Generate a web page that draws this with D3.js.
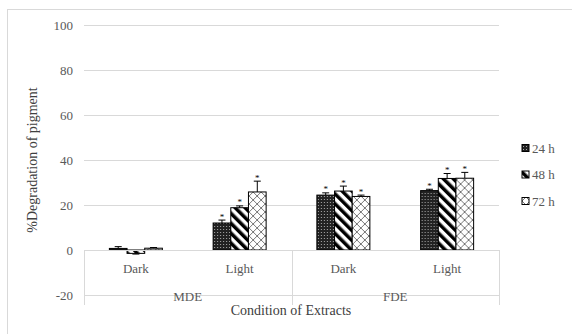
<!DOCTYPE html>
<html>
<head>
<meta charset="utf-8">
<script src="https://cdn.jsdelivr.net/npm/d3@7"></script>
<style>
  body { margin: 0; background: #fff; }
  text { font-family: "Liberation Serif", "Times New Roman", serif; }
</style>
</head>
<body>
<div id="chart"></div>
<script>
// data
const extracts = ["MDE", "FDE"];
const conditions = ["Dark", "Light"];
const series = ["24 h", "48 h", "72 h"];
const values = [
  [0.7, -1.5, 0.8],   // MDE Dark
  [12, 18.8, 25.8],   // MDE Light
  [24.4, 26.2, 23.8], // FDE Dark
  [26.4, 31.8, 31.9]  // FDE Light
];
const errors = [
  [0.8, 0.3, 0.3],
  [1.3, 0.8, 4.8],
  [1.0, 2.2, 0.6],
  [0.6, 2.2, 2.6]
];
const starred = [
  [false, false, false],
  [true, true, true],
  [true, true, true],
  [true, true, true]
];
const yTicks = [-20, 0, 20, 40, 60, 80, 100];

const width = 572, height = 334;
const svg = d3.select("#chart").append("svg")
  .attr("width", width)
  .attr("height", height);

// patterns
const defs = svg.append("defs");
const p1 = defs.append("pattern").attr("id", "p24")
  .attr("patternUnits", "userSpaceOnUse").attr("width", 3).attr("height", 3);
p1.append("rect").attr("width", 3).attr("height", 3).attr("fill", "#222");
p1.append("rect").attr("x", 1).attr("y", 1).attr("width", 1).attr("height", 1).attr("fill", "#aaa");

const p2 = defs.append("pattern").attr("id", "p48")
  .attr("patternUnits", "userSpaceOnUse").attr("width", 7).attr("height", 7)
  .attr("patternTransform", "rotate(-45)");
p2.append("rect").attr("width", 7).attr("height", 7).attr("fill", "#fff");
p2.append("rect").attr("width", 3.5).attr("height", 7).attr("fill", "#000");

const p3 = defs.append("pattern").attr("id", "p72")
  .attr("patternUnits", "userSpaceOnUse").attr("width", 8).attr("height", 8);
p3.append("rect").attr("width", 8).attr("height", 8).attr("fill", "#fff");
p3.append("path").attr("d", "M0,0L8,8M8,0L0,8").attr("stroke", "#777").attr("stroke-width", 1);

const fills = ["url(#p24)", "url(#p48)", "url(#p72)"];

// outer frame
svg.append("rect")
  .attr("x", 7.5).attr("y", 9.5).attr("width", 600).attr("height", 400)
  .attr("fill", "none").attr("stroke", "#d9d9d9");

// scales
const y = d3.scaleLinear().domain([-20, 100]).range([295, 25]);
const cats = [];
extracts.forEach(e => conditions.forEach(c => cats.push(e + "|" + c)));
const x0 = d3.scaleBand().domain(cats).range([84, 499]);
const x1 = d3.scaleBand().domain(series).range([0, 53]);
const xg = d3.scaleBand().domain(extracts).range([84, 499]);

// gridlines
svg.append("g").selectAll("line")
  .data(yTicks.filter(d => d !== 0))
  .join("line")
  .attr("x1", 84).attr("x2", 499)
  .attr("y1", d => Math.round(y(d)) + 0.5).attr("y2", d => Math.round(y(d)) + 0.5)
  .attr("stroke", "#d9d9d9");

// y tick labels
svg.append("g").selectAll("text")
  .data(yTicks)
  .join("text")
  .attr("x", 73).attr("y", d => y(d) + 4.5)
  .attr("text-anchor", "end")
  .attr("font-size", 13)
  .attr("fill", "#595959")
  .text(d => d);

// bars
const groups = svg.append("g").selectAll("g")
  .data(values)
  .join("g")
  .attr("transform", (d, i) => `translate(${x0(cats[i]) + (x0.bandwidth() - 53) / 2},0)`);

groups.selectAll("rect")
  .data(d => d)
  .join("rect")
  .attr("x", (d, j) => x1(series[j]))
  .attr("y", d => y(Math.max(0, d)))
  .attr("width", x1.bandwidth())
  .attr("height", d => Math.abs(y(d) - y(0)))
  .attr("fill", (d, j) => fills[j])
  .attr("stroke", "#000")
  .attr("stroke-width", 1);

// error bars
groups.each(function(row, i) {
  const g = d3.select(this);
  row.forEach((v, j) => {
    const cx = x1(series[j]) + x1.bandwidth() / 2;
    const top = v >= 0 ? v + errors[i][j] : v - errors[i][j];
    g.append("line")
      .attr("x1", cx).attr("x2", cx)
      .attr("y1", y(v)).attr("y2", y(top))
      .attr("stroke", "#000");
    g.append("line")
      .attr("x1", cx - 3.5).attr("x2", cx + 3.5)
      .attr("y1", y(top)).attr("y2", y(top))
      .attr("stroke", "#000");
    if (starred[i][j]) {
      g.append("text")
        .attr("x", cx).attr("y", y(top) - 0.5)
        .attr("text-anchor", "middle")
        .attr("font-size", 9)
        .attr("fill", "#000")
        .text("*");
    }
  });
});

// category axis line and separators
svg.append("line")
  .attr("x1", 84).attr("x2", 499)
  .attr("y1", Math.round(y(0)) + 0.5).attr("y2", Math.round(y(0)) + 0.5)
  .attr("stroke", "#d9d9d9");
svg.append("g").selectAll("line")
  .data([84, xg("FDE"), 499])
  .join("line")
  .attr("x1", d => Math.round(d) + 0.5).attr("x2", d => Math.round(d) + 0.5)
  .attr("y1", y(0)).attr("y2", 305)
  .attr("stroke", "#d9d9d9");

// category labels
svg.append("g").selectAll("text")
  .data(cats)
  .join("text")
  .attr("x", d => x0(d) + x0.bandwidth() / 2)
  .attr("y", 273)
  .attr("text-anchor", "middle")
  .attr("font-size", 13)
  .attr("fill", "#595959")
  .text(d => d.split("|")[1]);

svg.append("g").selectAll("text")
  .data(extracts)
  .join("text")
  .attr("x", d => xg(d) + xg.bandwidth() / 2)
  .attr("y", 301)
  .attr("text-anchor", "middle")
  .attr("font-size", 13)
  .attr("fill", "#595959")
  .text(d => d);

// axis titles
svg.append("text")
  .attr("x", 291).attr("y", 315)
  .attr("text-anchor", "middle")
  .attr("font-size", 14)
  .attr("fill", "#404040")
  .text("Condition of Extracts");

svg.append("text")
  .attr("transform", "translate(37,160) rotate(-90)")
  .attr("text-anchor", "middle")
  .attr("font-size", 14)
  .attr("fill", "#404040")
  .text("%Degradation of pigment");

// legend
const legend = svg.append("g").selectAll("g")
  .data(series)
  .join("g")
  .attr("transform", (d, i) => `translate(522,${148 + i * 26.5})`);
legend.append("rect")
  .attr("x", 0).attr("y", -3.5).attr("width", 7).attr("height", 7)
  .attr("fill", (d, i) => fills[i])
  .attr("stroke", "#000");
legend.append("text")
  .attr("x", 10).attr("y", 4.5)
  .attr("font-size", 13)
  .attr("fill", "#595959")
  .text(d => d);
</script>
</body>
</html>
